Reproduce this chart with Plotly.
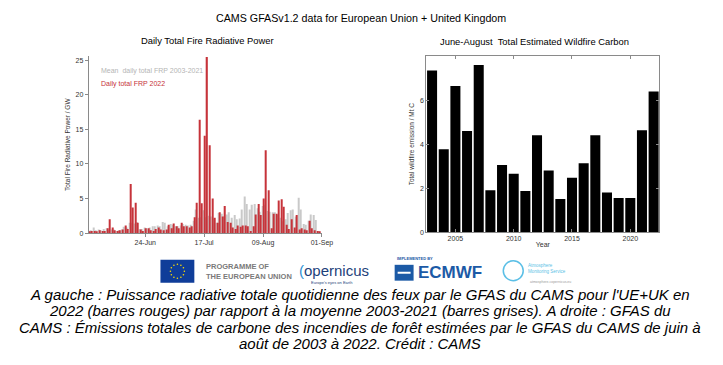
import math
import pandas as pd
import plotly.graph_objects as go

# ---------------- data ----------------
days = pd.date_range("2022-06-02", "2022-08-31", freq="D")
frp_mean_2003_2021 = [
    0.3, 0.4, 0.8, 0.4, 0.5, 0.4, 0.6, 0.7, 0.4, 0.5,
    0.5, 0.3, 0.4, 0.5, 0.9, 0.8, 1.5, 1.5, 1.4, 1.6,
    0.6, 0.6, 0.8, 0.7, 0.8, 1.0, 1.0, 1.1, 1.0, 1.6,
    1.5, 1.0, 1.3, 1.2, 1.0, 1.0, 1.1, 1.3, 1.2, 1.1,
    1.2, 1.8, 3.4, 2.2, 2.3, 3.3, 2.3, 2.5, 2.4, 2.1,
    1.5, 2.9, 2.8, 2.4, 2.7, 3.0, 2.2, 2.6, 2.0, 2.1,
    3.4, 5.3, 4.2, 3.4, 4.1, 4.2, 3.6, 3.1, 3.9, 4.1,
    3.2, 3.1, 3.0, 3.0, 2.6, 2.2, 1.7, 2.0, 2.9, 3.3,
    3.4, 2.4, 5.1, 3.4, 1.3, 1.2, 1.8, 2.7, 2.6, 1.9,
    0.3,
]
frp_2022 = [
    0.2, 0.3, 0.3, 0.2, 0.4, 0.3, 0.3, 0.7, 2.0, 0.8,
    0.4, 0.3, 0.4, 0.5, 1.1, 0.6, 7.1, 3.7, 4.4, 1.5,
    0.5, 0.3, 0.7, 0.7, 0.4, 0.3, 0.6, 0.8, 0.5, 0.4,
    0.5, 1.2, 0.7, 1.4, 1.0, 0.7, 1.5, 1.0, 1.0, 0.8,
    1.0, 2.3, 4.4, 16.4, 4.3, 14.1, 25.5, 12.7, 5.0, 2.2,
    1.5, 3.0, 2.4, 3.9, 1.6, 1.5, 0.8, 0.6, 1.1, 0.9,
    1.1, 1.1, 1.0, 0.3, 1.0, 2.7, 4.2, 2.6, 5.0, 12.0,
    6.2, 0.7, 2.8, 2.8, 4.7, 4.9, 3.8, 1.2, 0.6, 2.0,
    0.8, 2.6, 0.5, 0.7, 0.5, 0.4, 1.8, 0.7, 0.4, 0.3,
    0.2,
]
frp_tickvals = ["2022-06-24", "2022-07-17", "2022-08-09", "2022-09-01"]
frp_ticktext = ["24-Jun", "17-Jul", "09-Aug", "01-Sep"]

years = list(range(2003, 2023))
carbon_mtc = [7.35, 3.77, 6.65, 4.6, 7.6, 1.9, 3.05, 2.65, 1.87, 4.4,
              2.8, 1.5, 2.47, 3.13, 4.4, 1.8, 1.55, 1.55, 4.63, 6.4]
year_ticks = [2005, 2010, 2015, 2020]
carbon_ticks = [0, 2, 4, 6]

caption_lines = [
    "A gauche : Puissance radiative totale quotidienne des feux par le GFAS du CAMS pour l'UE+UK en",
    "2022 (barres rouges) par rapport à la moyenne 2003-2021 (barres grises). A droite : GFAS du",
    "CAMS : Émissions totales de carbone des incendies de forêt estimées par le GFAS du CAMS de juin à",
    "août de 2003 à 2022. Crédit : CAMS",
]

# ---------------- helpers (pixel -> paper) ----------------
W, H = 723, 365
KX = 1.012
def px(x):
    return min(1.0, x * KX / W)
def py(y):
    return 1 - y / H

FONT = "Liberation Sans"
fig = go.Figure()

fig.add_trace(go.Bar(x=days, y=frp_mean_2003_2021, marker_color="#c9c9c9",
                     marker_line_width=0, xaxis="x", yaxis="y", showlegend=False))
fig.add_trace(go.Bar(x=days, y=frp_2022, marker_color="#c6333a",
                     marker_line_width=0, xaxis="x", yaxis="y", showlegend=False))
fig.add_trace(go.Bar(x=years, y=carbon_mtc, marker_color="black",
                     marker_line_width=0, width=0.86, xaxis="x2", yaxis="y2",
                     showlegend=False))

axcol = "#8a8a8a"
tickfont = dict(family=FONT, size=7, color="#333333")
fig.update_layout(
    width=W, height=H, margin=dict(l=0, r=0, t=0, b=0),
    paper_bgcolor="white", plot_bgcolor="white",
    barmode="group", bargap=0.12, bargroupgap=0.0,
    xaxis=dict(domain=[px(89), px(323)], type="date",
               range=["2022-06-01 22:00", "2022-09-01 00:00"],
               tickvals=frp_tickvals, ticktext=frp_ticktext,
               ticks="outside", ticklen=3, tickcolor=axcol,
               showline=True, linecolor=axcol, linewidth=1,
               showgrid=False, zeroline=False, tickfont=tickfont),
    yaxis=dict(domain=[py(235), py(56.7)], range=[0, 25.6],
               tickvals=[0, 5, 10, 15, 20, 25],
               ticks="outside", ticklen=3, tickcolor=axcol,
               showline=True, linecolor=axcol, linewidth=1,
               showgrid=False, zeroline=False, tickfont=tickfont,
               title=dict(text="Total Fire Radiative Power / GW",
                          font=dict(family=FONT, size=6.5, color="#333333"),
                          standoff=4)),
    xaxis2=dict(domain=[px(427.7), px(661.7)], range=[2002.5, 2022.5],
                tickvals=year_ticks, ticks="inside", ticklen=3, tickcolor=axcol,
                mirror="ticks", showline=True, linecolor=axcol, linewidth=1,
                showgrid=False, zeroline=False, tickfont=tickfont,
                anchor="y2",
                title=dict(text="Year", font=dict(family=FONT, size=7, color="#333333"),
                           standoff=0)),
    yaxis2=dict(domain=[py(234), py(56.7)], range=[0, 8],
                tickvals=carbon_ticks, ticks="inside", ticklen=3, tickcolor=axcol,
                mirror="ticks", showline=True, linecolor=axcol, linewidth=1,
                showgrid=False, zeroline=False, tickfont=tickfont,
                anchor="x2",
                title=dict(text="Total wildfire emission / Mt C",
                           font=dict(family=FONT, size=6.5, color="#333333"),
                           standoff=4)),
)

ann = []
def text(x, y, s, size, color="black", xanchor="center", yanchor="middle", bold=False,
         italic=False, family=FONT, **kw):
    if bold:
        s = "<b>" + s + "</b>"
    if italic:
        s = "<i>" + s + "</i>"
    ann.append(dict(x=px(x), y=py(y), xref="paper", yref="paper", text=s,
                    showarrow=False, xanchor=xanchor, yanchor=yanchor,
                    font=dict(family=family, size=size, color=color), **kw))

# titles
text(362.5, 18, "CAMS GFASv1.2 data for European Union + United Kingdom", 10.7)
text(208.5, 41, "Daily Total Fire Radiative Power", 9.4)
text(536, 42, "June-August  Total Estimated Wildfire Carbon", 9.4)

# in-plot legend
text(99, 72, "Mean  daily total FRP 2003-2021", 7, color="#b5b5b5", xanchor="left")
text(99, 84.5, "Daily total FRP 2022", 7, color="#c6333a", xanchor="left")

# ---------------- logos (decoration) ----------------
shapes = []
shapes.append(dict(type="rect", xref="paper", yref="paper",
                   x0=px(161), x1=px(195), y0=py(285), y1=py(262),
                   fillcolor="#0f3d99", line=dict(width=0)))
cx, cy, r = 178, 273.5, 7.0
for k in range(12):
    a = 2 * math.pi * k / 12
    sx, sy = cx + r * math.cos(a), cy + r * math.sin(a)
    shapes.append(dict(type="circle", xref="paper", yref="paper",
                       x0=px(sx - 0.8), x1=px(sx + 0.8), y0=py(sy + 0.8), y1=py(sy - 0.8),
                       fillcolor="#ffdd00", line=dict(width=0)))
text(205, 268.5, "PROGRAMME OF", 7.5, color="#7a7a7a", xanchor="left", bold=True)
text(205, 278.5, "THE EUROPEAN UNION", 7.5, color="#7a7a7a", xanchor="left", bold=True)

# copernicus
text(298, 273, "<span style='color:#2b8fd3'>(</span>opernicus", 15, color="#1d3f7a",
     xanchor="left", family="Liberation Sans")
text(333, 285, "Europe's eyes on Earth", 4, color="#1d3f7a")

# ECMWF
text(396, 261, "IMPLEMENTED BY", 4, color="#1c5aa6", xanchor="left", bold=True)
shapes.append(dict(type="rect", xref="paper", yref="paper",
                   x0=px(396), x1=px(415), y0=py(283), y1=py(267),
                   fillcolor="#1c5aa6", line=dict(width=0)))
shapes.append(dict(type="rect", xref="paper", yref="paper",
                   x0=px(399), x1=px(412), y0=py(276), y1=py(274),
                   fillcolor="white", line=dict(width=0)))
text(452, 275, "ECMWF", 17, color="#1c5aa6", bold=True)

# atmosphere monitoring service
shapes.append(dict(type="circle", xref="paper", yref="paper",
                   x0=px(505), x1=px(525), y0=py(283), y1=py(263),
                   line=dict(color="#5bbfe6", width=1.5)))
text(528, 268, "Atmosphere", 4.5, color="#5bbfe6", xanchor="left")
text(528, 274, "Monitoring Service", 4.5, color="#5bbfe6", xanchor="left")
text(530, 284, "atmosphere.copernicus.eu", 3.5, color="#9a9a9a", xanchor="left")

# caption, one annotation per line for tight line spacing
for i, line in enumerate(caption_lines):
    text(361.5, 297 + 16.4 * i, line, 15, italic=True)

fig.update_layout(annotations=ann, shapes=shapes)
fig.write_html(
    "out.html",
    config={"displayModeBar": False},
    post_script=("document.documentElement.style.overflow='hidden';"
                 "document.body.style.overflow='hidden';"
                 "document.body.style.margin='0';"),
)
